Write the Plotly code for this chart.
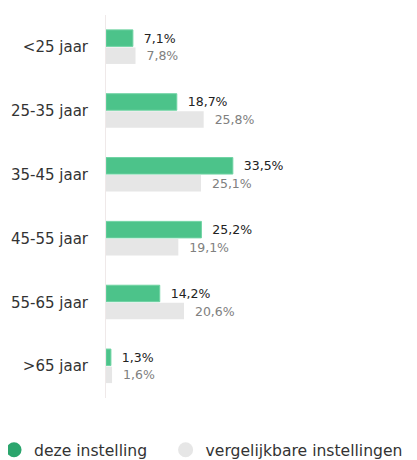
import plotly.graph_objects as go

categories = ["<25 jaar", "25-35 jaar", "35-45 jaar", "45-55 jaar", "55-65 jaar", ">65 jaar"]
deze_instelling = [7.1, 18.7, 33.5, 25.2, 14.2, 1.3]
vergelijkbare = [7.8, 25.8, 25.1, 19.1, 20.6, 1.6]
series_names = ["deze instelling", "vergelijkbare instellingen"]

def fmt(v):
    return "\u00a0\u00a0" + f"{v:.1f}".replace(".", ",") + "%"

FONT = "'DejaVu Sans', sans-serif"
GREEN = "#4cc38a"
GREEN_DARK = "#2ba56d"
GRAY = "#e6e6e6"

fig = go.Figure()
fig.add_trace(go.Bar(
    y=categories, x=deze_instelling, orientation="h", name=series_names[0],
    marker=dict(color=GREEN, line=dict(color="#6fd3a3", width=1)),
    text=[fmt(v) for v in deze_instelling], textposition="outside",
    textfont=dict(size=12.5, color="#222222", family=FONT),
    cliponaxis=False, showlegend=False, hoverinfo="skip",
))
fig.add_trace(go.Bar(
    y=categories, x=vergelijkbare, orientation="h", name=series_names[1],
    marker=dict(color=GRAY, line=dict(width=0)),
    text=[fmt(v) for v in vergelijkbare], textposition="outside",
    textfont=dict(size=12.5, color="#808080", family=FONT),
    cliponaxis=False, showlegend=False, hoverinfo="skip",
))
# legend entries with round symbols (two legends for exact placement)
fig.add_trace(go.Scatter(x=[None], y=[None], mode="markers", name=series_names[0],
                         marker=dict(color=GREEN_DARK, size=15, symbol="circle"),
                         legend="legend"))
fig.add_trace(go.Scatter(x=[None], y=[None], mode="markers", name=series_names[1],
                         marker=dict(color=GRAY, size=15, symbol="circle"),
                         legend="legend2"))

legend_style = dict(orientation="h", xanchor="left", y=-0.136, yanchor="middle",
                    font=dict(size=15.6, color="#333333", family=FONT),
                    itemclick=False, bgcolor="rgba(0,0,0,0)")

fig.update_layout(
    width=409, height=452,
    margin=dict(l=98, r=10, t=7, b=62, autoexpand=False),
    paper_bgcolor="white", plot_bgcolor="white",
    barmode="group", bargap=0.45, bargroupgap=0.06,
    font=dict(family=FONT, color="#333333"),
    legend=dict(x=-0.372, **legend_style),
    legend2=dict(x=0.198, **legend_style),
)
fig.update_xaxes(range=[0, 79.5], visible=False, showgrid=False, zeroline=False, fixedrange=True)
fig.update_yaxes(autorange="reversed", showgrid=False, zeroline=False, automargin=False,
                 showline=True, linecolor="#efe9e9", linewidth=1,
                 ticks="", ticklabelstandoff=14,
                 tickfont=dict(size=15, color="#333333", family=FONT), fixedrange=True)

fig.write_html("out.html")
